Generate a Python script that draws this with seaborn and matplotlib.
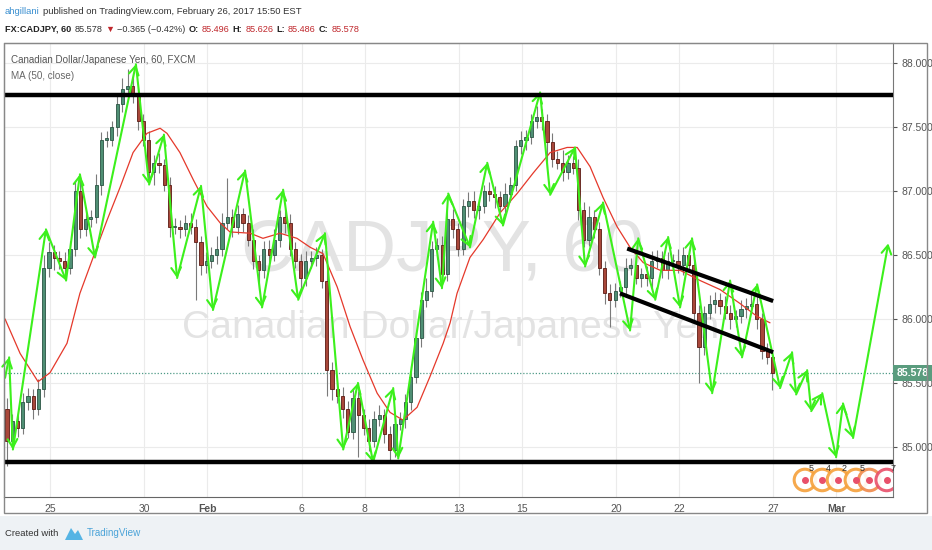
import numpy as np
import pandas as pd
import seaborn as sns
import matplotlib.pyplot as plt
import matplotlib.transforms as mtrans
from matplotlib.patches import Rectangle, Polygon

sns.set_style('white')
plt.rcParams['font.family'] = ['Liberation Sans', 'DejaVu Sans']

# ---- data (x in trading days from Jan 25, 4h candles) ----
first_open = 85.30
closes = [
    85.05, 85.20, 85.15, 85.35, 85.40, 85.30, 85.45, 86.40, 86.52, 86.48, 86.45, 86.40,
    86.55, 87.00, 86.70, 86.78, 86.80, 87.05, 87.40, 87.40, 87.50, 87.68, 87.80, 87.82,
    87.75, 87.55, 87.40, 87.15, 87.22, 87.20, 87.05, 86.72, 86.72, 86.70, 86.75, 86.72,
    86.60, 86.42, 86.45, 86.50, 86.55, 86.75, 86.80, 86.72, 86.82, 86.75, 86.62, 86.45,
    86.38, 86.55, 86.50, 86.62, 86.80, 86.75, 86.55, 86.45, 86.32, 86.45, 86.48, 86.50,
    86.30, 85.60, 85.45, 85.40, 85.30, 85.12, 85.38, 85.25, 85.15, 85.05, 85.22, 85.25,
    85.10, 84.98, 85.18, 85.22, 85.35, 85.55, 85.85, 86.15, 86.22, 86.55, 86.58, 86.35,
    86.78, 86.70, 86.55, 86.88, 86.92, 86.85, 86.88, 87.00, 86.98, 86.95, 86.88, 86.98,
    87.05, 87.35, 87.40, 87.42, 87.55, 87.58, 87.55, 87.38, 87.25, 87.22, 87.15, 87.22,
    87.18, 86.85, 86.62, 86.80, 86.70, 86.40, 86.20, 86.15, 86.22, 86.25, 86.40, 86.42,
    86.32, 86.35, 86.32, 86.45, 86.48, 86.38, 86.45, 86.45, 86.42, 86.50, 86.42, 86.05,
    85.78, 86.05, 86.12, 86.15, 86.10, 86.05, 86.00, 86.02, 86.08, 86.10, 86.12, 86.00,
    85.75, 85.70, 85.578]
up_wick = [
    0.08, 0.06, 0.05, 0.07, 0.06, 0.05, 0.08, 0.10, 0.08, 0.06, 0.05, 0.07,
    0.06, 0.08, 0.10, 0.06, 0.05, 0.08, 0.06, 0.07, 0.05, 0.06, 0.08, 0.13,
    0.10, 0.06, 0.05, 0.07, 0.06, 0.08, 0.05, 0.06, 0.07, 0.05, 0.06, 0.08,
    0.06, 0.05, 0.07, 0.06, 0.10, 0.08, 0.30, 0.06, 0.07, 0.05, 0.06, 0.08,
    0.05, 0.06, 0.07, 0.08, 0.05, 0.06, 0.07, 0.05, 0.06, 0.08, 0.05, 0.06,
    0.05, 0.08, 0.06, 0.05, 0.07, 0.06, 0.08, 0.06, 0.05, 0.07, 0.06, 0.08,
    0.05, 0.06, 0.07, 0.05, 0.06, 0.08, 0.05, 0.06, 0.10, 0.06, 0.05, 0.07,
    0.06, 0.08, 0.05, 0.06, 0.07, 0.08, 0.06, 0.05, 0.07, 0.06, 0.05, 0.08,
    0.06, 0.05, 0.07, 0.06, 0.05, 0.08, 0.06, 0.05, 0.07, 0.06, 0.10, 0.06,
    0.05, 0.07, 0.06, 0.08, 0.05, 0.06, 0.05, 0.07, 0.06, 0.05, 0.08, 0.06,
    0.07, 0.05, 0.06, 0.08, 0.06, 0.05, 0.07, 0.06, 0.10, 0.06, 0.05, 0.07,
    0.06, 0.05, 0.07, 0.06, 0.05, 0.08, 0.06, 0.05, 0.07, 0.06, 0.08, 0.06,
    0.05, 0.06, 0.04]
down_wick = [
    0.20, 0.06, 0.07, 0.05, 0.06, 0.08, 0.05, 0.06, 0.07, 0.10, 0.06, 0.08,
    0.05, 0.06, 0.07, 0.05, 0.06, 0.05, 0.08, 0.06, 0.05, 0.07, 0.06, 0.05,
    0.06, 0.07, 0.05, 0.06, 0.10, 0.06, 0.05, 0.08, 0.06, 0.07, 0.05, 0.06,
    0.45, 0.08, 0.06, 0.05, 0.07, 0.06, 0.05, 0.08, 0.06, 0.07, 0.05, 0.06,
    0.15, 0.06, 0.07, 0.05, 0.06, 0.08, 0.06, 0.05, 0.10, 0.06, 0.05, 0.07,
    0.06, 0.20, 0.08, 0.06, 0.07, 0.05, 0.06, 0.33, 0.06, 0.08, 0.05, 0.06,
    0.07, 0.08, 0.06, 0.05, 0.07, 0.06, 0.05, 0.07, 0.06, 0.05, 0.08, 0.06,
    0.05, 0.07, 0.06, 0.05, 0.08, 0.06, 0.07, 0.05, 0.06, 0.08, 0.05, 0.06,
    0.07, 0.05, 0.06, 0.08, 0.05, 0.06, 0.07, 0.20, 0.06, 0.05, 0.07, 0.06,
    0.05, 0.08, 0.06, 0.05, 0.07, 0.06, 0.08, 0.21, 0.06, 0.05, 0.07, 0.06,
    0.05, 0.07, 0.06, 0.08, 0.05, 0.06, 0.07, 0.05, 0.06, 0.08, 0.05, 0.06,
    0.28, 0.06, 0.05, 0.07, 0.06, 0.05, 0.08, 0.06, 0.05, 0.07, 0.06, 0.08,
    0.06, 0.05, 0.13]

# MA (50, close) as drawn
ma_day = [-1.43, -0.95, -0.38, 0.0, 0.54, 0.95, 1.37, 1.81, 2.23, 2.64, 3.08, 3.5, 3.72,
          4.13, 4.55, 4.99, 5.41, 5.72, 6.36, 6.77, 7.31, 7.85, 8.27, 8.68, 9.13, 9.54,
          9.95, 10.4, 10.81, 11.22, 11.67, 12.08, 12.5, 12.72, 12.94, 13.35, 13.77, 14.31,
          14.85, 15.36, 15.9, 16.44, 16.76, 17.17, 17.58, 18.03, 18.44, 18.86, 19.4, 20.03,
          20.67, 21.3, 21.94, 22.48, 22.89]
ma_val = [86.0, 85.73, 85.51, 85.58, 85.81, 86.2, 86.48, 86.77, 87.03, 87.3, 87.45, 87.49,
          87.45, 87.3, 87.09, 86.88, 86.75, 86.68, 86.67, 86.63, 86.67, 86.63, 86.56, 86.51,
          86.25, 85.94, 85.68, 85.42, 85.27, 85.21, 85.31, 85.55, 85.81, 85.97, 86.2, 86.48,
          86.62, 86.83, 86.98, 87.14, 87.3, 87.34, 87.34, 87.19, 86.95, 86.72, 86.56, 86.44,
          86.38, 86.38, 86.3, 86.23, 86.12, 86.02, 85.97]

# green zigzag arrows (vertices)
arrow_day = [-1.43, -1.30, -1.18, -0.13, 0.51, 0.95, 1.43, 2.73, 3.15, 3.62, 4.04, 4.80,
             5.18, 6.20, 6.74, 7.41, 7.89, 8.74, 9.32, 9.79, 10.27, 10.91, 11.07, 12.18,
             12.46, 12.66, 13.35, 13.90, 14.40, 15.58, 15.90, 16.69, 17.01, 17.58, 18.44,
             18.70, 19.24, 19.65, 20.03, 20.41, 21.05, 21.62, 22.00, 22.48, 23.21, 23.59,
             23.72, 24.07, 24.20, 24.55, 24.99, 25.21, 25.53, 26.65]
arrow_price = [85.54, 85.70, 84.98, 86.70, 86.30, 87.13, 86.48, 87.99, 87.05, 87.44, 86.32,
               87.04, 86.07, 87.16, 86.09, 87.01, 86.15, 86.67, 84.98, 85.50, 84.88, 85.46,
               84.91, 86.76, 86.24, 86.98, 86.56, 87.22, 86.73, 87.77, 86.97, 87.34, 86.41,
               86.91, 85.91, 86.63, 86.15, 86.64, 86.09, 86.63, 85.42, 86.30, 85.70, 86.27,
               85.46, 85.74, 85.41, 85.60, 85.28, 85.42, 84.92, 85.34, 85.07, 86.59]

support_levels = [87.75, 84.88]
channel_upper = ([18.35, 22.99], [86.55, 86.14])
channel_lower = ([18.12, 22.99], [86.20, 85.74])
last_price = 85.578

tick_days = [0, 3, 5, 8, 10, 13, 15, 18, 20, 23, 25]
tick_labels = ['25', '30', 'Feb', '6', '8', '13', '15', '20', '22', '27', 'Mar']
price_ticks = [85.0, 85.5, 86.0, 86.5, 87.0, 87.5, 88.0]

event_days = [24.0, 24.55, 25.05, 25.62, 26.05, 26.6]
event_colors = ['#f5a03a', '#f5a03a', '#f5a03a', '#f5a03a', '#f08a4a', '#e8506a']
event_nums = ['5', '4', '2', '5', '', '7']

# ---- figure ----
W, H = 932, 550
fig = plt.figure(figsize=(W / 100, H / 100), dpi=100)
fig.patch.set_facecolor('white')
renderer = fig.canvas.get_renderer()


def fx(x):
    return x / W


def fy(y):
    return 1 - y / H


def fit_width(t, target_px):
    w = t.get_window_extent(renderer).width
    t.set_fontsize(t.get_fontsize() * target_px / w)


def text_row(pieces, x0, y, x_end, gap=3):
    # size the row so it spans x0..x_end like the reference
    probe = fig.text(0, 0, ''.join(p[0] for p in pieces), fontsize=10)
    w = probe.get_window_extent(renderer).width
    probe.remove()
    size = 10 * (x_end - x0 - gap * (len(pieces) - 1)) / w
    x = x0
    for txt, wt, col in pieces:
        t = fig.text(fx(x), fy(y), txt, fontsize=size, fontweight=wt, color=col,
                     va='center')
        x += t.get_window_extent(renderer).width + gap


ax = fig.add_axes([fx(4), fy(497), fx(893) - fx(4), fy(43) - fy(497)])
ax.set_xlim(-1.463, 26.80)
ax.set_ylim(84.609, 88.156)

# candles
df = pd.DataFrame({'close': closes})
df['day'] = -1.45 + (np.arange(len(df)) + 0.5) / 6
df['open'] = [first_open] + closes[:-1]
df['high'] = df[['open', 'close']].max(axis=1) + np.array(up_wick)
df['low'] = df[['open', 'close']].min(axis=1) - np.array(down_wick)
df['bottom'] = df[['open', 'close']].min(axis=1)
df['height'] = (df['close'] - df['open']).abs().clip(lower=0.01)
rise = df['close'] >= df['open']

ax.vlines(df['day'], df['low'], df['high'], color='#7a7a7a', lw=0.8, zorder=3)
ax.bar(df['day'][rise], df['height'][rise], bottom=df['bottom'][rise], width=0.1,
       color='#4f8f74', edgecolor='#2a5443', lw=0.6, zorder=4)
ax.bar(df['day'][~rise], df['height'][~rise], bottom=df['bottom'][~rise], width=0.1,
       color='#a8473a', edgecolor='#5b1a13', lw=0.6, zorder=4)

# moving average
ma_df = pd.DataFrame({'day': ma_day, 'ma': ma_val})
sns.lineplot(data=ma_df, x='day', y='ma', ax=ax, color='#e5392b', lw=0.9,
             sort=False, zorder=5, legend=False)

# green arrows
green = '#3cf01c'
for k in range(len(arrow_day) - 1):
    ax.annotate('', xy=(arrow_day[k + 1], arrow_price[k + 1]),
                xytext=(arrow_day[k], arrow_price[k]),
                arrowprops=dict(arrowstyle='->,head_length=0.6,head_width=0.35',
                                color=green, lw=1.5, shrinkA=0, shrinkB=0),
                zorder=6)

# black drawings
for lvl in support_levels:
    ax.axhline(lvl, color='black', lw=3.2, zorder=7)
ax.plot(*channel_upper, color='black', lw=3, zorder=7, solid_capstyle='butt')
ax.plot(*channel_lower, color='black', lw=3, zorder=7, solid_capstyle='butt')

# last price line and label
ax.axhline(last_price, color='#4f9a87', lw=0.9, ls=(0, (1, 1.5)), zorder=2)
trans = mtrans.blended_transform_factory(ax.transAxes, ax.transData)
ax.text(1.004, last_price, f'{last_price:.3f}', transform=trans, ha='left', va='center',
        color='white', fontsize=7.5, fontweight='bold', clip_on=False, zorder=10,
        bbox=dict(boxstyle='square,pad=0.3', fc='#5a9c7e', ec='none'))

# economic event icons
ax.scatter(event_days, [84.742] * len(event_days), s=240, facecolors='white',
           edgecolors=event_colors, linewidths=2.2, alpha=0.9, zorder=8)
ax.scatter(event_days, [84.742] * len(event_days), s=16, c='#e8506a', zorder=9)
for d, n in zip(event_days, event_nums):
    ax.text(d + 0.2, 84.83, n, fontsize=6.5, color='#333', ha='center', va='center', zorder=9)

# watermark
wm1 = ax.text(fx(443), fy(270), 'CADJPY, 60', transform=fig.transFigure, ha='center',
              va='baseline', fontsize=60, color='#e3e3e3', zorder=1)
fit_width(wm1, 403)
wm2 = ax.text(fx(451), fy(338), 'Canadian Dollar/Japanese Yen', transform=fig.transFigure,
              ha='center', va='baseline', fontsize=30, color='#e3e3e3', zorder=1)
fit_width(wm2, 536)

# legend-like labels inside chart
t1 = ax.text(fx(11), fy(60), 'Canadian Dollar/Japanese Yen, 60, FXCM',
             transform=fig.transFigure, ha='left', va='center', fontsize=8.5,
             color='#555', zorder=11)
fit_width(t1, 185)
t2 = ax.text(fx(11), fy(76), 'MA (50, close)', transform=fig.transFigure,
             ha='left', va='center', fontsize=t1.get_fontsize(), color='#666', zorder=11)

# axes styling
ax.grid(True, color='#ebebeb', lw=0.8)
ax.set_axisbelow(True)
ax.set_xlabel('')
ax.set_ylabel('')
ax.yaxis.tick_right()
ax.set_yticks(price_ticks)
ax.set_yticklabels([f'{v:.3f}' for v in price_ticks])
ax.set_xticks(tick_days)
ax.set_xticklabels(tick_labels)
for lab in ax.get_xticklabels():
    if lab.get_text() in ('Feb', 'Mar'):
        lab.set_fontweight('bold')
ax.tick_params(axis='y', length=3, pad=3, labelsize=7.5, colors='#555')
ax.tick_params(axis='x', length=3, pad=2, labelsize=7.5, colors='#555')
ax.spines['left'].set_color('#999')
ax.spines['top'].set_color('#999')
ax.spines['right'].set_color('#777')
ax.spines['bottom'].set_color('#666')

# outer frame and footer
fig.add_artist(Rectangle((fx(4), fy(513)), fx(927) - fx(4), fy(43) - fy(513), fill=False,
                         ec='#888', lw=1, transform=fig.transFigure))
fig.add_artist(Rectangle((0, 0), 1, fy(516), fc='#eef2f5', ec='none',
                         transform=fig.transFigure, zorder=-1))

# header
text_row([('ahgillani', 'normal', '#3a8fd0'),
          ('published on TradingView.com, February 26, 2017 15:50 EST', 'normal', '#333')],
         5, 12, 302, gap=3)
red = '#c0282d'
text_row([('FX:CADJPY, 60', 'bold', '#222'), ('85.578', 'normal', '#333'),
          ('\u25BC', 'normal', red), ('\u22120.365 (\u22120.42%)', 'normal', '#333'),
          ('O:', 'bold', '#222'), ('85.496', 'normal', red),
          ('H:', 'bold', '#222'), ('85.626', 'normal', red),
          ('L:', 'bold', '#222'), ('85.486', 'normal', red),
          ('C:', 'bold', '#222'), ('85.578', 'normal', red)],
         5, 29, 355, gap=3)

f1 = fig.text(fx(5), fy(533), 'Created with', fontsize=8.5, color='#333', va='center')
fit_width(f1, 53)
fig.add_artist(Polygon([(fx(65), fy(540)), (fx(71), fy(528)), (fx(75), fy(534)),
                        (fx(78), fy(530)), (fx(83), fy(540))], closed=True,
                       fc='#55b4e4', ec='none', transform=fig.transFigure))
f2 = fig.text(fx(87), fy(533), 'TradingView', fontsize=8.5, color='#4aa3d8', va='center')
fit_width(f2, 54)

fig.savefig('out.png', dpi=100)
